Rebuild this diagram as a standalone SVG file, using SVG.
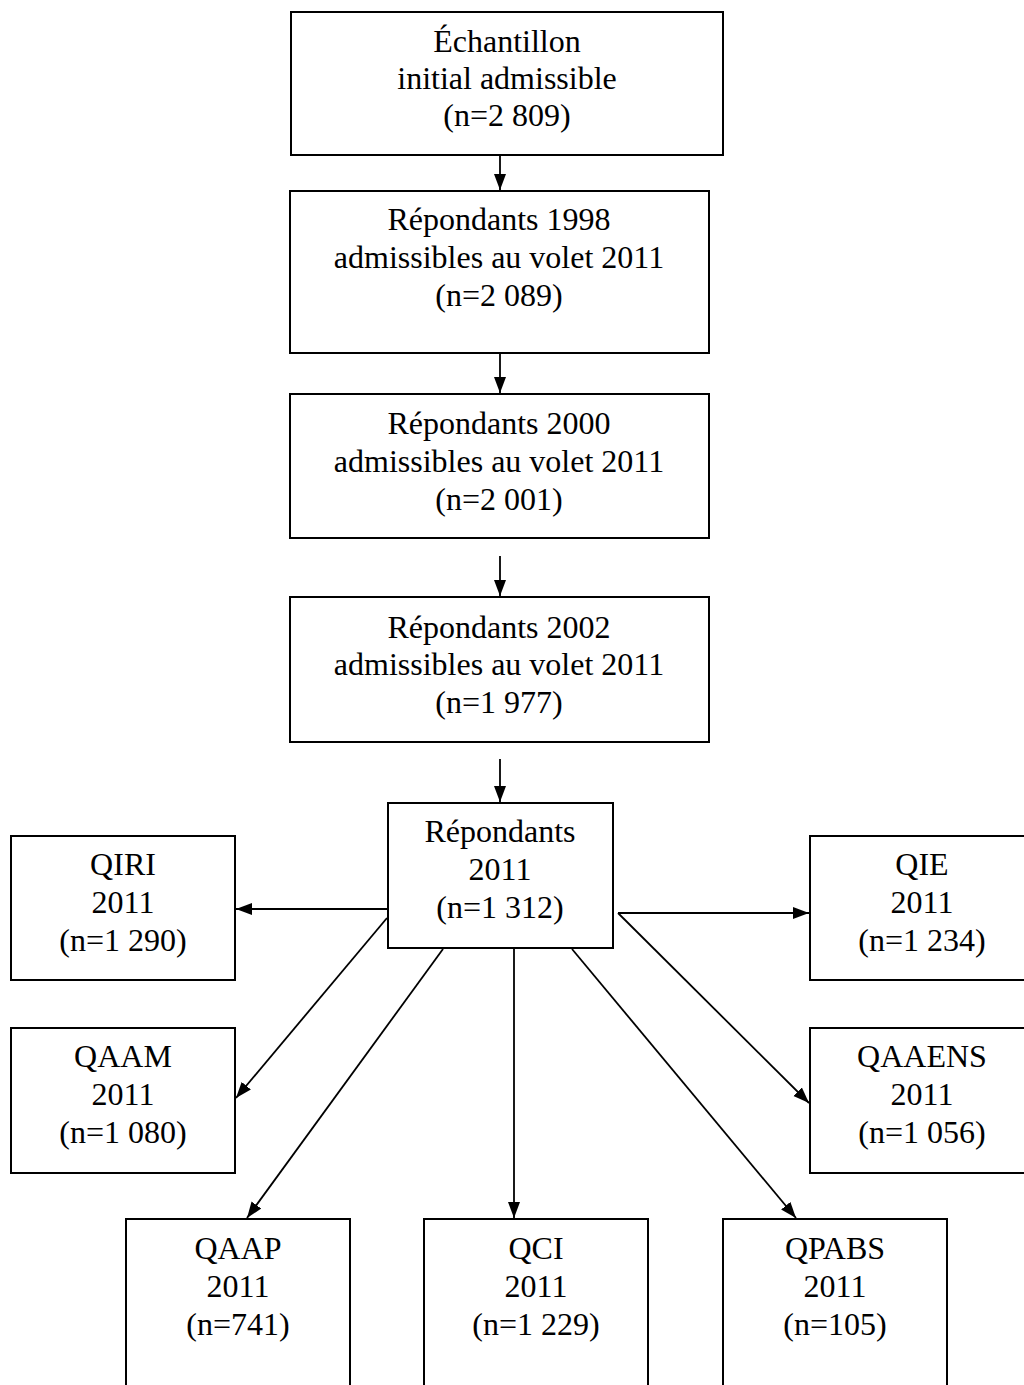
<svg xmlns="http://www.w3.org/2000/svg" width="1024" height="1385" viewBox="0 0 1024 1385">
<style>
.box{fill:#fff;stroke:#000;stroke-width:2}
.t{font-family:"Liberation Serif","Times New Roman",serif;font-size:32px;fill:#000;text-anchor:middle}
.c{stroke:#000;stroke-width:1.8;fill:none;marker-end:url(#ah)}
</style>
<defs>
<marker id="ah" markerUnits="userSpaceOnUse" markerWidth="18" markerHeight="14" viewBox="0 0 18 14" refX="16" refY="7" orient="auto">
<path d="M0,1 L16,7 L0,13 Z" fill="#000"/>
</marker>
</defs>
<rect width="1024" height="1385" fill="#fff"/>
<g id="connectors">
<line class="c" x1="500" y1="155" x2="500" y2="190"/>
<line class="c" x1="500" y1="353" x2="500" y2="393"/>
<line class="c" x1="500" y1="556" x2="500" y2="596"/>
<line class="c" x1="500" y1="759" x2="500" y2="802"/>
<line class="c" x1="388" y1="909" x2="236" y2="909"/>
<line class="c" x1="618" y1="913" x2="809" y2="913"/>
<line class="c" x1="387" y1="918" x2="236" y2="1098"/>
<line class="c" x1="618" y1="913" x2="809" y2="1103"/>
<line class="c" x1="443" y1="949" x2="247" y2="1218"/>
<line class="c" x1="514" y1="949" x2="514" y2="1218"/>
<line class="c" x1="572" y1="949" x2="796" y2="1218"/>
</g>
<g id="n1"><rect class="box" x="291" y="12" width="432" height="143"/>
<text class="t" x="507" y="52">Échantillon</text><text class="t" x="507" y="89">initial admissible</text><text class="t" x="507" y="126">(n=2 809)</text></g>
<g id="n2"><rect class="box" x="290" y="191" width="419" height="162"/>
<text class="t" x="499" y="230">Répondants 1998</text><text class="t" x="499" y="268">admissibles au volet 2011</text><text class="t" x="499" y="306">(n=2 089)</text></g>
<g id="n3"><rect class="box" x="290" y="394" width="419" height="144"/>
<text class="t" x="499" y="434">Répondants 2000</text><text class="t" x="499" y="472">admissibles au volet 2011</text><text class="t" x="499" y="510">(n=2 001)</text></g>
<g id="n4"><rect class="box" x="290" y="597" width="419" height="145"/>
<text class="t" x="499" y="638">Répondants 2002</text><text class="t" x="499" y="675">admissibles au volet 2011</text><text class="t" x="499" y="713">(n=1 977)</text></g>
<g id="n5"><rect class="box" x="388" y="803" width="225" height="145"/>
<text class="t" x="500" y="842">Répondants</text><text class="t" x="500" y="880">2011</text><text class="t" x="500" y="918">(n=1 312)</text></g>
<g id="qiri"><rect class="box" x="11" y="836" width="224" height="144"/>
<text class="t" x="123" y="875">QIRI</text><text class="t" x="123" y="913">2011</text><text class="t" x="123" y="951">(n=1 290)</text></g>
<g id="qie"><rect class="box" x="810" y="836" width="224" height="144"/>
<text class="t" x="922" y="875">QIE</text><text class="t" x="922" y="913">2011</text><text class="t" x="922" y="951">(n=1 234)</text></g>
<g id="qaam"><rect class="box" x="11" y="1028" width="224" height="145"/>
<text class="t" x="123" y="1067">QAAM</text><text class="t" x="123" y="1105">2011</text><text class="t" x="123" y="1143">(n=1 080)</text></g>
<g id="qaaens"><rect class="box" x="810" y="1028" width="224" height="145"/>
<text class="t" x="922" y="1067">QAAENS</text><text class="t" x="922" y="1105">2011</text><text class="t" x="922" y="1143">(n=1 056)</text></g>
<g id="qaap"><rect class="box" x="126" y="1219" width="224" height="200"/>
<text class="t" x="238" y="1259">QAAP</text><text class="t" x="238" y="1297">2011</text><text class="t" x="238" y="1335">(n=741)</text></g>
<g id="qci"><rect class="box" x="424" y="1219" width="224" height="200"/>
<text class="t" x="536" y="1259">QCI</text><text class="t" x="536" y="1297">2011</text><text class="t" x="536" y="1335">(n=1 229)</text></g>
<g id="qpabs"><rect class="box" x="723" y="1219" width="224" height="200"/>
<text class="t" x="835" y="1259">QPABS</text><text class="t" x="835" y="1297">2011</text><text class="t" x="835" y="1335">(n=105)</text></g>
</svg>
